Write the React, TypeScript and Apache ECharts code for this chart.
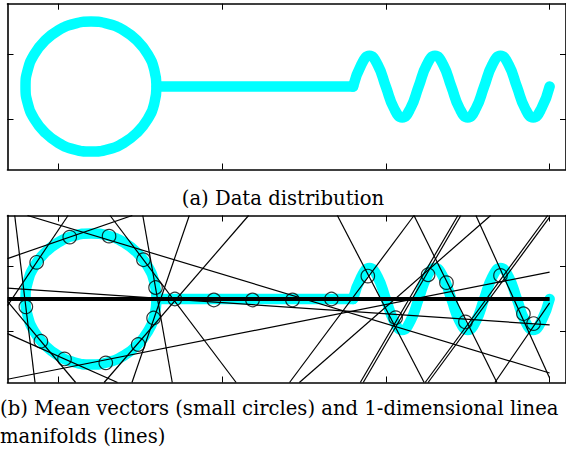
import React, { useEffect, useRef } from "react";
import * as echarts from "echarts";

// ---- tick values ----
const X_TICKS = [0, 5, 10, 15];
const Y_TICKS = [-1, 1];

// ---- data distribution (ring, bar, wave) ----
const ringPoints = [
  [3, 0], [2.93, 0.52], [2.73, 1.0], [2.41, 1.41], [2.0, 1.73], [1.52, 1.93],
  [1.0, 2.0], [0.48, 1.93], [0.0, 1.73], [-0.41, 1.41], [-0.73, 1.0], [-0.93, 0.52],
  [-1.0, 0], [-0.93, -0.52], [-0.73, -1.0], [-0.41, -1.41], [0.0, -1.73], [0.48, -1.93],
  [1.0, -2.0], [1.52, -1.93], [2.0, -1.73], [2.41, -1.41], [2.73, -1.0], [2.93, -0.52],
  [3, 0],
];
const barPoints = [[3, 0], [9, 0]];
const wavePoints = [
  [9, 0], [9.25, 0.67], [9.5, 0.95], [9.75, 0.67], [10, 0], [10.25, -0.67], [10.5, -0.95],
  [10.75, -0.67], [11, 0], [11.25, 0.67], [11.5, 0.95], [11.75, 0.67], [12, 0],
  [12.25, -0.67], [12.5, -0.95], [12.75, -0.67], [13, 0], [13.25, 0.67], [13.5, 0.95],
  [13.75, 0.67], [14, 0], [14.25, -0.67], [14.5, -0.95], [14.75, -0.67], [15, 0],
];

// ---- mean vectors ----
const meanVectors = [
  [0.35, 1.89], [1.55, 1.92], [-0.66, 1.12], [2.6, 1.2], [2.97, 0.35], [-0.99, -0.24],
  [2.91, -0.58], [-0.53, -1.29], [2.44, -1.39], [0.19, -1.83], [1.45, -1.95],
  [3.56, 0.0], [4.75, -0.03], [5.93, -0.03], [7.15, -0.03], [8.34, 0.0],
  [9.45, 0.7], [10.3, -0.57], [11.29, 0.74], [11.85, 0.5], [12.43, -0.7],
  [13.5, 0.72], [14.2, -0.45], [14.51, -0.75],
];

// ---- 1-dimensional linear manifolds: [x1, y1, x2, y2] ----
const manifolds = [
  [-1.55, 1.235, 2.26, 2.55],
  [-0.94, 2.55, 15, -2.26],
  [-1.55, -0.2, 0.3, 2.55],
  [1.58, 2.55, 5.43, -2.55],
  [2.58, 2.55, 3.48, -2.55],
  [-1.33, 2.55, -0.71, -2.55],
  [2.25, -2.55, 4.0, 2.55],
  [-1.55, -0.075, 0.53, -2.55],
  [1.4, -2.55, 5.81, 2.55],
  [-1.55, -1.056, 1.81, -2.55],
  [-1.55, -2.45, 15, 0.82],
  [-1.55, 0.335, 15, -0.79],
  [-1.55, 0.045, 15, 0.045],
  [-1.55, 0.015, 15, 0.015],
  [-1.55, -0.015, 15, -0.015],
  [-1.55, -0.045, 15, -0.045],
  [8.52, 2.55, 11.17, -2.55],
  [7.06, -2.55, 10.86, 2.55],
  [10.86, 2.55, 13.39, -2.55],
  [13.2, 2.55, 7.36, -2.55],
  [9.22, -2.55, 12.2, 2.55],
  [9.31, -2.55, 12.29, 2.55],
  [11.2, -2.55, 14.94, 2.55],
  [11.29, -2.55, 15.0, 2.5],
  [12.75, 2.55, 15, -2.41],
  [13.33, -2.55, 15, -0.12],
];

const CAPTION_A = "(a) Data distribution";
const CAPTION_B1 = "(b) Mean vectors (small circles) and 1-dimensional linea";
const CAPTION_B2 = "manifolds (lines)";

const X_MIN = -1.55;
const X_MAX = 15.5;
const Y_MIN = -2.55;
const Y_MAX = 2.55;

const CYAN = "#00FFFF";
const FONT = '"DejaVu Serif", serif';

function xAxis(gridIndex: number, position: "top" | "bottom") {
  return {
    type: "value",
    gridIndex,
    position,
    min: X_MIN,
    max: X_MAX,
    axisLine: { show: true, onZero: false, lineStyle: { color: "#000", width: 1.6 } },
    axisTick: { show: true, inside: true, length: 6, customValues: X_TICKS, lineStyle: { color: "#000", width: 1 } },
    axisLabel: { show: false },
    splitLine: { show: false },
  };
}
function yAxis(gridIndex: number, position: "left" | "right") {
  return {
    type: "value",
    gridIndex,
    position,
    min: Y_MIN,
    max: Y_MAX,
    axisLine: { show: true, onZero: false, lineStyle: { color: "#000", width: 1.6 } },
    axisTick: { show: true, inside: true, length: 6, customValues: Y_TICKS, lineStyle: { color: "#000", width: 1 } },
    axisLabel: { show: false },
    splitLine: { show: false },
  };
}

function cyanSeries(axis: number) {
  const base = {
    type: "line",
    xAxisIndex: axis,
    yAxisIndex: axis,
    symbol: "none",
    silent: true,
    z: 1,
    lineStyle: { color: CYAN, width: 10.5, cap: "round", join: "round" },
  };
  return [
    { ...base, data: ringPoints, smooth: true },
    { ...base, data: barPoints },
    { ...base, data: wavePoints, smooth: true },
  ];
}

export default function App() {
  const ref = useRef<HTMLDivElement>(null);
  useEffect(() => {
    if (!ref.current) return;
    const chart = echarts.init(ref.current, undefined, { renderer: "svg" });
    const lineSeries = manifolds.map((m) => ({
      type: "line",
      xAxisIndex: 2,
      yAxisIndex: 2,
      symbol: "none",
      silent: true,
      clip: true,
      z: 2,
      data: [
        [m[0], m[1]],
        [m[2], m[3]],
      ],
      lineStyle: { color: "#000", width: 1.2 },
    }));
    chart.setOption({
      animation: false,
      backgroundColor: "#fff",
      grid: [
        { left: 7.5, top: 3.7, width: 560, height: 165.8 },
        { left: 7.5, top: 215.5, width: 560, height: 167 },
      ],
      xAxis: [xAxis(0, "bottom"), xAxis(0, "top"), xAxis(1, "bottom"), xAxis(1, "top")],
      yAxis: [yAxis(0, "left"), yAxis(0, "right"), yAxis(1, "left"), yAxis(1, "right")],
      series: [
        ...cyanSeries(0),
        ...cyanSeries(2),
        ...lineSeries,
        {
          type: "scatter",
          xAxisIndex: 2,
          yAxisIndex: 2,
          z: 3,
          silent: true,
          symbol: "circle",
          symbolSize: 13.5,
          data: meanVectors,
          itemStyle: { color: "rgba(0,0,0,0)", borderColor: "#000", borderWidth: 1.2 },
        },
      ],
      graphic: [
        {
          type: "text",
          x: 283,
          y: 198,
          style: { text: CAPTION_A, fontSize: 19.6, fontFamily: FONT, fill: "#000", align: "center", verticalAlign: "middle" },
        },
        {
          type: "text",
          x: 0,
          y: 408,
          style: { text: CAPTION_B1, fontSize: 19.6, fontFamily: FONT, fill: "#000", align: "left", verticalAlign: "middle" },
        },
        {
          type: "text",
          x: 0,
          y: 436,
          style: { text: CAPTION_B2, fontSize: 19.6, fontFamily: FONT, fill: "#000", align: "left", verticalAlign: "middle" },
        },
      ],
    });
    return () => chart.dispose();
  }, []);
  return (
    <div
      ref={ref}
      style={{ position: "absolute", left: 0, top: 0, width: 566, height: 453 }}
    />
  );
}
